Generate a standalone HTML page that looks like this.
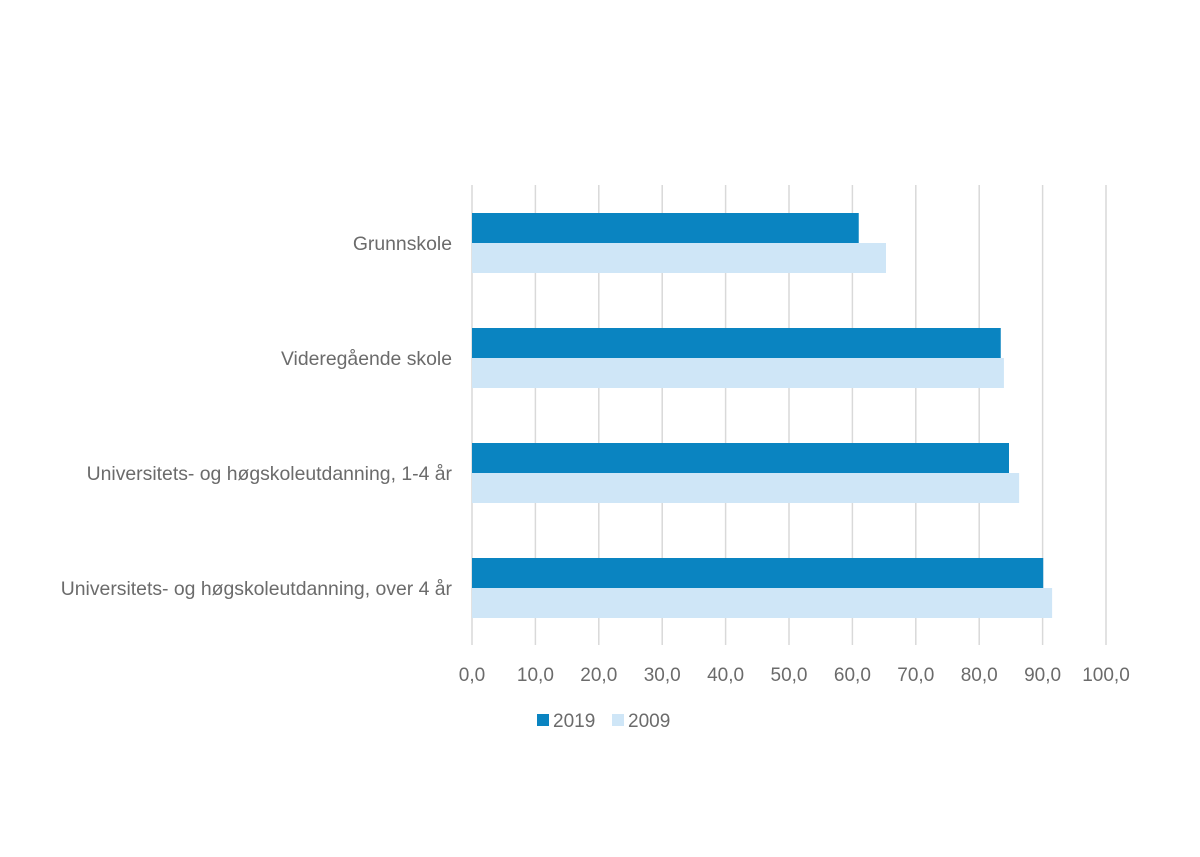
<!DOCTYPE html>
<html><head><meta charset="utf-8"><style>
body{margin:0;background:#fff}
svg{display:block}
text{font-family:"Liberation Sans",sans-serif;fill:#6b6b6b}
</style></head><body>
<svg width="1200" height="857" id="chart"></svg>
<script>
const categories=["Grunnskole","Videregående skole","Universitets- og høgskoleutdanning, 1-4 år","Universitets- og høgskoleutdanning, over 4 år"];
const series2019=[61.0,83.4,84.7,90.1];
const series2009=[65.3,83.9,86.3,91.5];
const ticks=[0,10,20,30,40,50,60,70,80,90,100];
const tickLabels=["0,0","10,0","20,0","30,0","40,0","50,0","60,0","70,0","80,0","90,0","100,0"];
const svgEl=document.getElementById('chart');
const NS="http://www.w3.org/2000/svg";
const x0=472,x1=1106,plotTop=185,plotBottom=645,bandH=115,barH=30;
const xs=v=>x0+(x1-x0)*v/100;
function mk(t,a){const e=document.createElementNS(NS,t);for(const k in a)e.setAttribute(k,a[k]);svgEl.appendChild(e);return e;}
ticks.forEach((t,i)=>{
 const g=mk('line',{x1:xs(t),x2:xs(t),y1:plotTop,y2:plotBottom,stroke:'#d9d9d9','stroke-width':1.5});
 
 
 const l=mk('text',{x:xs(t),y:681,'text-anchor':'middle','font-size':19});
 l.textContent=tickLabels[i];
 
 
});
categories.forEach((c,i)=>{
 const yc=243+i*bandH;
 const a=mk('rect',{x:x0,y:yc-barH,width:xs(series2019[i])-x0,height:barH,fill:'#0a84c1'});
 
 
 const b=mk('rect',{x:x0,y:yc,width:xs(series2009[i])-x0,height:barH,fill:'#cfe6f7'});
 
 
 const t=mk('text',{x:452,y:yc+7,'text-anchor':'end','font-size':19.4});
 t.textContent=c;
 
 
});
const legend=[["2019","#0a84c1",537],["2009","#cfe6f7",612]];
legend.forEach(([n,col,x])=>{
 const r=mk('rect',{x:x,y:714,width:12,height:12,fill:col});
 
 
 const t=mk('text',{x:x+16,y:727,'font-size':19});
 t.textContent=n;
 
 
});
</script>
</body></html>
